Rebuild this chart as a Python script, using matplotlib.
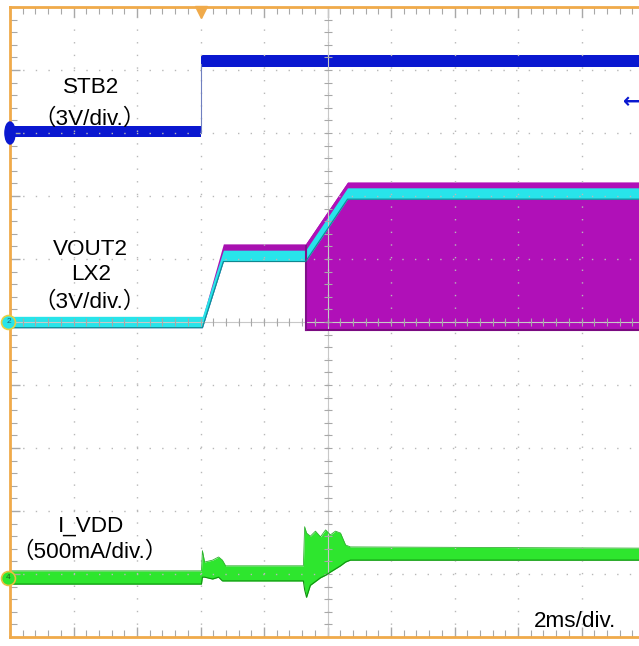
import matplotlib.pyplot as plt
import numpy as np
from matplotlib.patches import Ellipse
from matplotlib.ticker import MultipleLocator

plt.rcParams['font.family'] = ['Liberation Sans', 'Noto Sans CJK JP']

# time in ms (trigger at 0), level in divisions (0 = bottom of screen)
# STB2 (ch1)
stb_lo_t = [-6, 0]
stb_lo_lo = [7.94, 7.94]
stb_lo_hi = [8.11, 8.11]
stb_hi_t = [0, 14]
stb_hi_lo = [9.05, 9.05]
stb_hi_hi = [9.24, 9.24]

# VOUT2 (ch2)
vout_t = [-6, 0.06, 0.72, 3.31, 4.63, 14]
vout_lo = [4.91, 4.91, 5.96, 5.96, 6.95, 6.95]
vout_hi = [5.09, 5.09, 6.14, 6.14, 7.13, 7.13]

# LX2 (ch3)
lx_t = [-6, 0.06, 0.72, 3.31, 4.63, 14]
lx_lo = [4.91, 4.91, 5.96, 5.96, 6.95, 6.95]
lx_hi = [5.06, 5.06, 6.24, 6.24, 7.22, 7.22]
sw_t = [3.31, 4.63, 14]
sw_lo = [4.88, 4.88, 4.88]
sw_hi = [6.24, 7.22, 7.22]

# I_VDD (ch4) envelope
idd_t = [-6, 0.03, 0.06, 0.13, 0.38, 0.57, 0.69, 0.79, 3.24, 3.28, 3.34, 3.46,
         3.62, 3.78, 3.94, 4.09, 4.25, 4.41, 4.57, 4.72, 14]
idd_hi = [1.05, 1.05, 1.37, 1.19, 1.22, 1.27, 1.22, 1.13, 1.13, 1.75, 1.65, 1.60,
          1.68, 1.59, 1.70, 1.62, 1.68, 1.65, 1.46, 1.43, 1.41]
idd_lo = [0.84, 0.84, 0.95, 0.95, 0.92, 0.95, 0.89, 0.89, 0.89, 0.75, 0.63, 0.82,
          0.88, 0.94, 0.98, 1.03, 1.08, 1.13, 1.19, 1.22, 1.22]

fig = plt.figure(figsize=(6.39, 6.46), dpi=100)
ax = fig.add_axes([10 / 639, 9 / 646, 635 / 639, 630 / 646])
ax.set_xlim(-6, 14)
ax.set_ylim(0, 10)

# graticule
ax.xaxis.set_major_locator(MultipleLocator(2))
ax.yaxis.set_major_locator(MultipleLocator(1))
ax.xaxis.set_minor_locator(MultipleLocator(0.4))
ax.yaxis.set_minor_locator(MultipleLocator(0.2))
ax.grid(which='major', color='#b8b8b8', linestyle=(0, (1, 8.1)), lw=1)
ax.tick_params(which='both', direction='in', top=True, bottom=True, left=True,
               right=False, labelbottom=False, labelleft=False, color='#a8a8a8')
ax.tick_params(which='major', length=7, width=1)
ax.tick_params(which='minor', length=5, width=0.8)
for s in ['left', 'top', 'bottom']:
    ax.spines[s].set_color('#f0aa4a')
    ax.spines[s].set_linewidth(2)
ax.spines['right'].set_visible(False)

ax.axhline(5, color='#c8c8c8', lw=0.8)
ax.axvline(4, color='#c8c8c8', lw=0.8)
xt = np.arange(-6, 14.01, 0.4)
yt = np.arange(0, 10.01, 0.2)
ax.plot(xt, [5] * len(xt), ls='none', marker='|', ms=6, color='#a8a8a8', mew=0.8)
ax.plot([4] * len(yt), yt, ls='none', marker='_', ms=6, color='#a8a8a8', mew=0.8)

# STB2
ax.fill_between(stb_lo_t, stb_lo_lo, stb_lo_hi, color='#0a18d0', lw=0)
ax.fill_between(stb_hi_t, stb_hi_lo, stb_hi_hi, color='#0a18d0', lw=0)
ax.plot([0, 0], [8.0, 9.1], color='#7080c0', lw=0.8)

# LX2 and VOUT2
ax.fill_between(lx_t, lx_lo, lx_hi, color='#a810b0', lw=0)
ax.fill_between(sw_t, sw_lo, sw_hi, color='#b010b8', lw=0)
ax.plot(sw_t, sw_lo, color='#7a0a80', lw=1.5)
ax.plot([3.31, 3.31], [4.88, 6.2], color='#80108a', lw=1.5)
ax.fill_between(vout_t, vout_lo, vout_hi, color='#28e4ea', lw=0)
ax.plot(vout_t, vout_lo, color='#108890', lw=0.8)

# I_VDD
ax.fill_between(idd_t, idd_lo, idd_hi, color='#2ee62e', lw=0)
ax.plot(idd_t, idd_lo, color='#109010', lw=0.8)
ax.plot(idd_t, idd_hi, color='#30b030', lw=0.6)

# channel markers
ax.add_patch(Ellipse((-6, 8.0), 0.32, 0.35, color='#0a18d0', clip_on=False, zorder=5))
ax.plot([-6.05], [5.0], marker='o', ms=10, mfc='#28e4ea', mec='#e8d040', mew=1.2,
        clip_on=False, zorder=5)
ax.text(-6.05, 5.0, '2', fontsize=6, ha='center', va='center', color='#206070', zorder=6)
ax.plot([-6.05], [0.94], marker='o', ms=10, mfc='#2ee62e', mec='#e8c040', mew=1.2,
        clip_on=False, zorder=5)
ax.text(-6.05, 0.94, '4', fontsize=6, ha='center', va='center', color='#206020', zorder=6)
ax.plot([0], [9.92], marker='v', ms=8, color='#f0aa4a', clip_on=False, zorder=5)
ax.text(13.57, 8.49, '←', fontsize=15, fontweight='bold', ha='center', va='center',
        color='#0a18d0', family=['DejaVu Sans'])

# labels
fs = 16.2
ax.text(-3.46, 8.635, 'STB2', fontsize=fs, ha='center', va='baseline')
ax.text(-3.5, 8.13, '（3V/div.）', fontsize=fs, ha='center', va='baseline')
ax.text(-3.46, 6.063, 'VOUT2', fontsize=fs, ha='center', va='baseline')
ax.text(-3.46, 5.667, 'LX2', fontsize=fs, ha='center', va='baseline')
ax.text(-3.5, 5.222, '（3V/div.）', fontsize=fs, ha='center', va='baseline')
ax.text(-3.46, 1.667, 'I_VDD', fontsize=fs, ha='center', va='baseline')
ax.text(-3.5, 1.254, '（500mA/div.）', fontsize=fs, ha='center', va='baseline')
ax.text(11.81, 0.159, '2ms/div.', fontsize=fs, ha='center', va='baseline')

fig.savefig('out.png', dpi=100)
